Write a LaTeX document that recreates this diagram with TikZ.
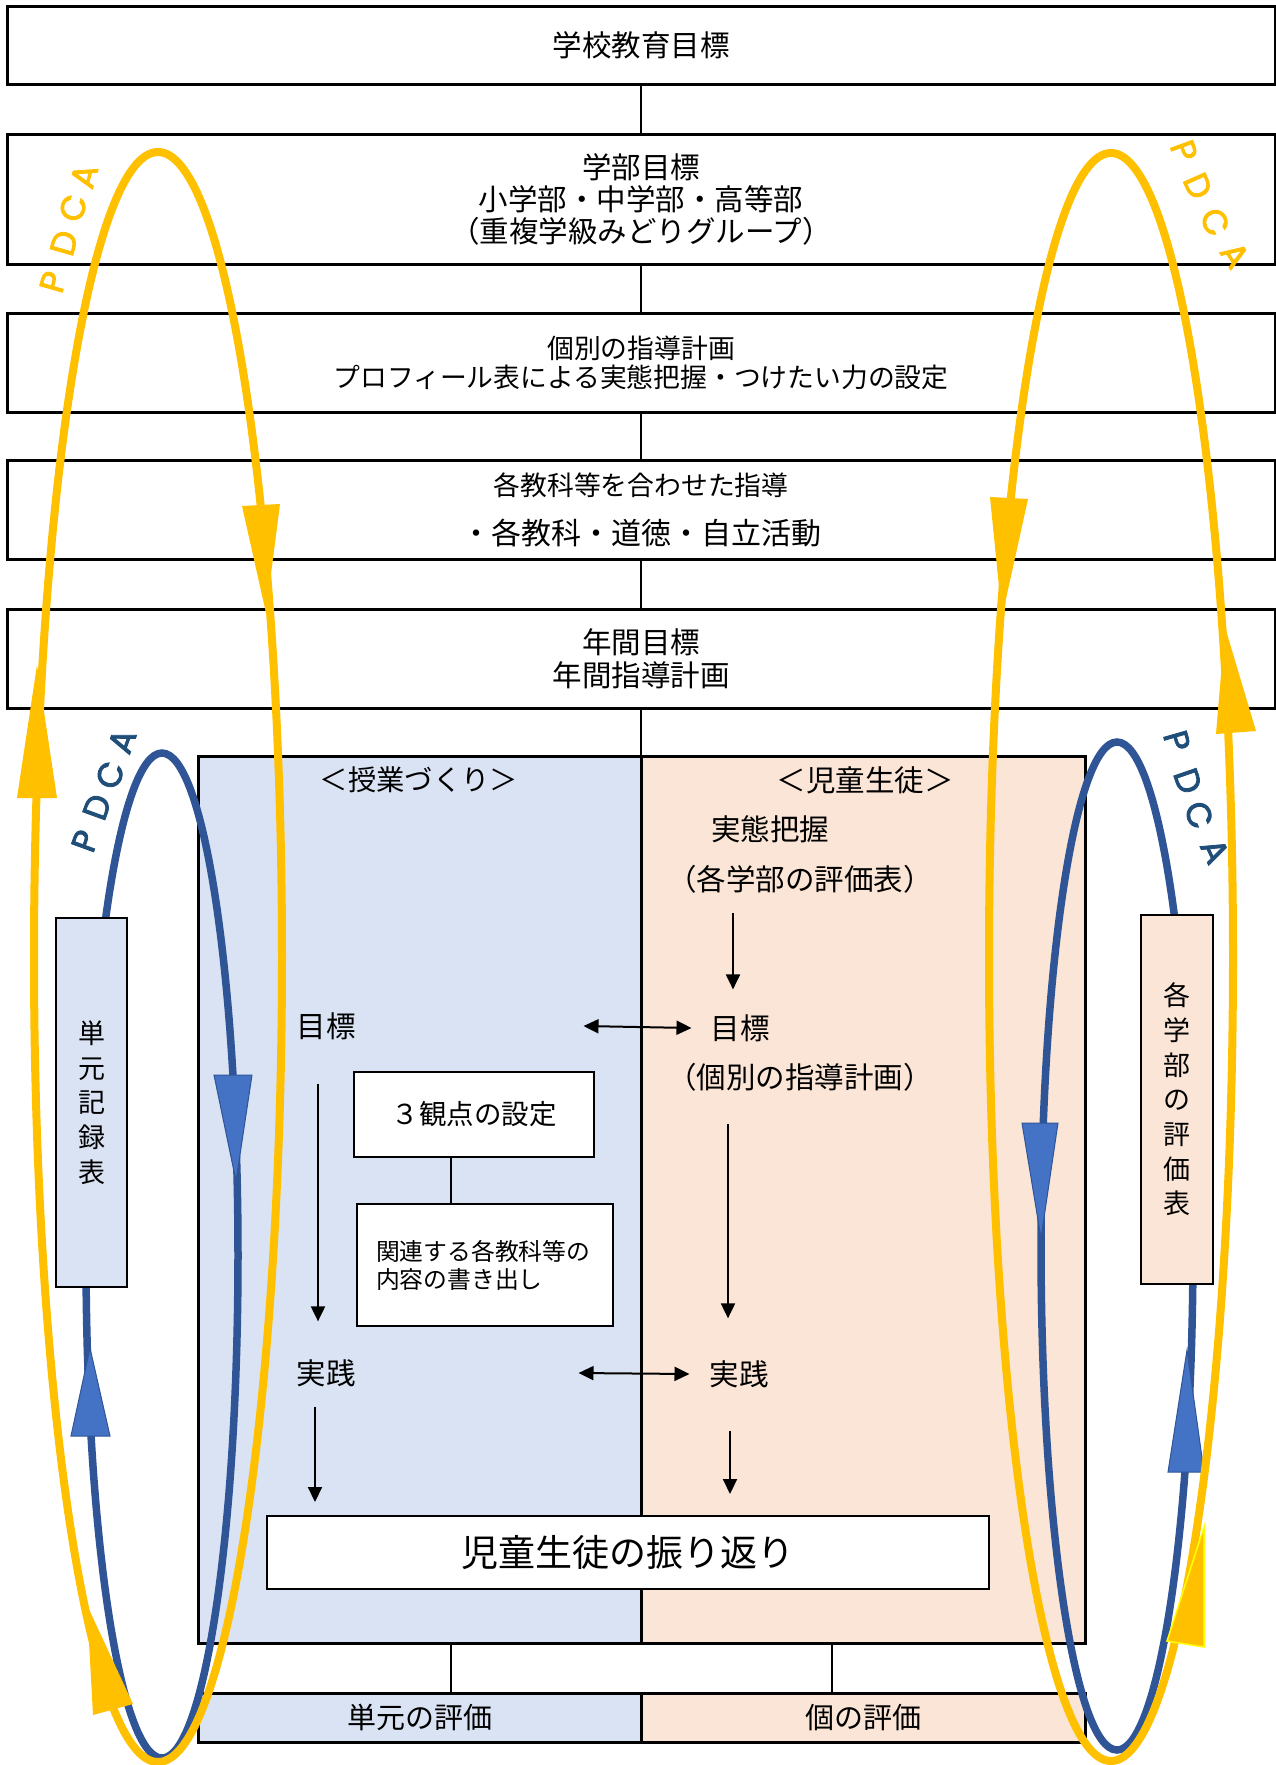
\documentclass[tikz,border=0pt]{standalone}
\usepackage{fontspec}
\setmainfont{Noto Sans CJK JP}
\newfontfamily\latinsans{Poppins}[FakeBold=2.5]
\usetikzlibrary{arrows.meta}
\definecolor{ylw}{HTML}{FFC000}
\definecolor{bln}{HTML}{2F5597}
\definecolor{blf}{HTML}{4472C4}
\definecolor{pblue}{HTML}{DAE3F3}
\definecolor{ppeach}{HTML}{FBE5D6}
\definecolor{pdcab}{HTML}{1F4E79}
\definecolor{ylo}{HTML}{FFFF00}
\newcommand{\fsz}[2]{\fontsize{#1}{#2}\selectfont}
\begin{document}
\begin{tikzpicture}[x=1pt,y=-1pt,
 every node/.style={inner sep=0pt,outer sep=0pt},
 topbox/.style={draw,line width=3pt,fill=white,minimum width=1268pt,align=center},
 conn/.style={line width=2pt},
 arr/.style={line width=2pt,-{Triangle[length=15pt,width=14pt]}},
 darr/.style={line width=2pt,{Triangle[length=15pt,width=14pt]}-{Triangle[length=15pt,width=14pt]}},
 inbox/.style={draw,line width=1.5pt,fill=white},
 lbl/.style={font=\fsz{29.5}{32}},
 yl/.style={draw=ylw,line width=8pt},
 bl/.style={draw=bln,line width=7.5pt},
 bhead/.style={fill=blf,draw=bln,line width=1pt},
 pdy/.style={text=ylw,font=\latinsans\fsz{34}{34}},
 pdb/.style={text=pdcab,font=\latinsans\fsz{34}{34}},
 sidebox/.style={draw,line width=1.5pt,align=center,font=\fsz{27}{34.7}},
]
\useasboundingbox (0,0) rectangle (1276,1765);

% top boxes
\node[topbox,minimum height=78pt,font=\fsz{29.5}{32}] (b1) at (641,45) {学校教育目標};
\node[topbox,minimum height=130pt,font=\fsz{29.5}{32}] (b2) at (641,199) {学部目標\\小学部・中学部・高等部\\（重複学級みどりグループ）};
\node[topbox,minimum height=99pt,font=\fsz{26.8}{29}] (b3) at (641,362.5) {個別の指導計画\\プロフィール表による実態把握・つけたい力の設定};
\node[topbox,minimum height=99pt,font=\fsz{26.8}{49}] (b4) at (641,509.5) {各教科等を合わせた指導\\{\fsz{30}{49}・各教科・道徳・自立活動}};
\node[topbox,minimum height=99pt,font=\fsz{29.5}{33}] (b5) at (641,658.5) {年間目標\\年間指導計画};

% panel
\node[draw,line width=3pt,fill=pblue,minimum width=443pt,minimum height=887pt] (pl) at (419.5,1199.5) {};
\node[draw,line width=3pt,fill=ppeach,minimum width=444pt,minimum height=887pt] (pr) at (863,1199.5) {};
\node[draw,line width=3pt,fill=pblue,minimum width=443pt,minimum height=49pt,font=\fsz{29}{30}] (sl) at (419.5,1717.5) {単元の評価};
\node[draw,line width=3pt,fill=ppeach,minimum width=444pt,minimum height=49pt,font=\fsz{29}{30}] (sr) at (863,1717.5) {個の評価};

% connectors
\draw[conn] (b1.south) -- (b2.north);
\draw[conn] (b2.south) -- (b3.north);
\draw[conn] (b3.south) -- (b4.north);
\draw[conn] (b4.south) -- (b5.north);
\draw[conn] (b5.south) -- (pl.north east);
\draw[conn] ([xshift=31.5pt]pl.south) -- ([xshift=31.5pt]sl.north);
\draw[conn] ([xshift=-31pt]pr.south) -- ([xshift=-31pt]sr.north);

% inner boxes
\node[inbox,minimum width=240pt,minimum height=85pt,font=\fsz{27.5}{30}] (kan) at (474,1114.5) {３観点の設定};
\node[inbox,minimum width=256pt,minimum height=122pt,text width=218pt,align=left,font=\fsz{23.8}{28}] (rel) at (485,1265) {関連する各教科等の\\内容の書き出し};
\draw[line width=1.5pt] ([xshift=-23pt]kan.south) -- ([xshift=-34pt]rel.north);
\node[inbox,minimum width=722pt,minimum height=73pt,font=\fsz{37}{40}] (fu) at (628,1552.5) {児童生徒の振り返り};

% labels
\node[lbl,font=\fsz{28.3}{32}] (jug) at (419,780) {＜授業づくり＞};
\node[lbl] (jid) at (865,780) {＜児童生徒＞};
\node[lbl] (jit) at (770,829) {実態把握};
\node[lbl] (hyo) at (800,879) {（各学部の評価表）};
\node[lbl] (mkL) at (326,1026) {目標};
\node[lbl] (mkR) at (740,1028) {目標};
\node[lbl] (kob) at (800,1077) {（個別の指導計画）};
\node[lbl] (jsL) at (326,1373) {実践};
\node[lbl] (jsR) at (739,1374) {実践};

% arrows
\draw[arr] ([xshift=-67pt,yshift=-20pt]hyo.south) -- ([xshift=-7pt,yshift=25pt]mkR.north);
\draw[arr] ([xshift=-8pt,yshift=-44pt]mkL.south) -- ([xshift=-8pt,yshift=38pt]jsL.north);
\draw[arr] ([xshift=-72pt,yshift=-33pt]kob.south) -- ([xshift=-11pt,yshift=42pt]jsR.north);
\draw[arr] ([xshift=-11pt,yshift=-20pt]jsL.south) -- ([xshift=-313pt,yshift=14pt]fu.north);
\draw[arr] ([xshift=-9pt,yshift=-43pt]jsR.south) -- ([xshift=102pt,yshift=22pt]fu.north);
\draw[darr] ([xshift=228pt]mkL.east) -- ([xshift=-19pt]mkR.west);
\draw[darr] ([xshift=223pt]jsL.east) -- ([xshift=-20pt]jsR.west);

% blue loops
\draw[bl] (162,1255.5) ellipse [x radius=76, y radius=502.5];
\draw[bl] (1117,1246) ellipse [x radius=76, y radius=504];
\filldraw[bhead] (214,1075) -- (252,1075) -- (236,1181) -- cycle;
\filldraw[bhead] (71,1436) -- (110,1436) -- (90,1348) -- cycle;
\filldraw[bhead] (1022,1123) -- (1058,1123) -- (1041,1238) -- cycle;
\filldraw[bhead] (1168,1472) -- (1204,1472) -- (1187,1350) -- cycle;

% side boxes
\node[sidebox,fill=pblue,minimum width=71pt,minimum height=369pt] (sbl) at (91.5,1102.5) {単\\元\\記\\録\\表};
\node[sidebox,fill=ppeach,minimum width=72pt,minimum height=369pt] (sbr) at (1177,1099.5) {各\\学\\部\\の\\評\\価\\表};

% yellow loops
\draw[yl] (158,957) ellipse [x radius=124, y radius=805];
\draw[yl] (1111,957) ellipse [x radius=122, y radius=804];
\fill[ylw] (242,506) -- (280,504) -- (266,613) -- cycle;
\fill[ylw] (990,497) -- (1028,499) -- (1002,617) -- cycle;
\fill[ylw] (17,798) -- (57,798) -- (37,665) -- cycle;
\fill[ylw] (1216,734) -- (1256,731) -- (1225,627) -- cycle;
\fill[ylw] (87,1605) -- (93,1715) -- (133,1704) -- cycle;
\filldraw[fill=ylw,draw=ylo,line width=1.5pt] (1204,1527) -- (1167,1641) -- (1204,1647) -- cycle;

% PDCA labels
\node[pdy,rotate=74] (yp1) at (53,282) {P};
\node[pdy,rotate=74] (yd1) at (64,243) {D};
\node[pdy,rotate=74] (yc1) at (73,208) {C};
\node[pdy,rotate=74] (ya1) at (84,176) {A};
\node[pdy,rotate=-70] (yp2) at (1184,151) {P};
\node[pdy,rotate=-66] (yd2) at (1198,186) {D};
\node[pdy,rotate=-62] (yc2) at (1215,222) {C};
\node[pdy,rotate=-57] (ya2) at (1235,255) {A};
\node[pdb,rotate=70] (bp1) at (85,841) {P};
\node[pdb,rotate=70] (bd1) at (97,807) {D};
\node[pdb,rotate=70] (bc1) at (110,775) {C};
\node[pdb,rotate=70] (ba1) at (122,741) {A};
\node[pdb,rotate=-74] (bp2) at (1177,741) {P};
\node[pdb,rotate=-71] (bd2) at (1188,781) {D};
\node[pdb,rotate=-68] (bc2) at (1199,815) {C};
\node[pdb,rotate=-65] (ba2) at (1215,851) {A};
\end{tikzpicture}
\end{document}
